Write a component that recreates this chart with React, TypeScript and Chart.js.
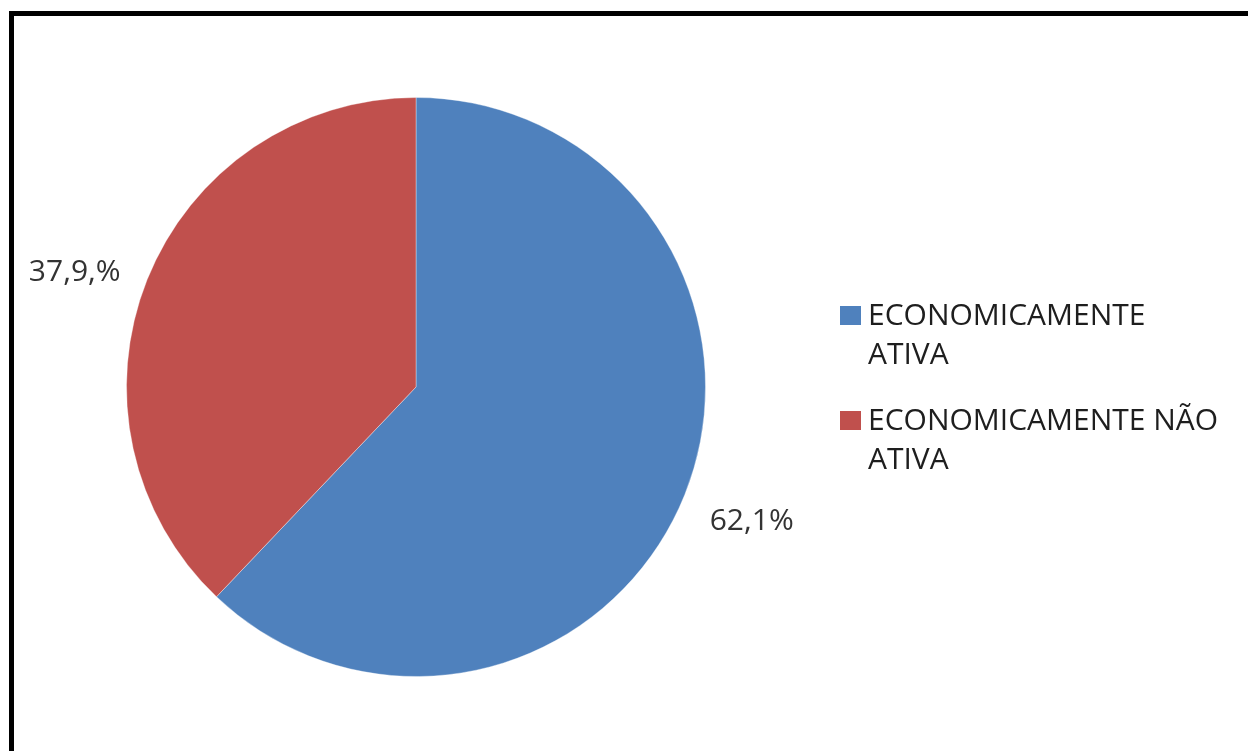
import React, { useEffect, useRef } from "react";
import { Chart, registerables } from "chart.js";

Chart.register(...registerables);

const categories: string[][] = [
  ["ECONOMICAMENTE", "ATIVA"],
  ["ECONOMICAMENTE NÃO", "ATIVA"],
];
const values: number[] = [62.1, 37.9];
const valueLabels: string[] = ["62,1%", "37,9,%"];
const colors: string[] = ["#4F81BD", "#C0504D"];

const FONT = '"Open Sans", "DejaVu Sans", sans-serif';

const frameAndLabels = {
  id: "frameAndLabels",
  afterDraw(chart: any) {
    const ctx = chart.ctx as CanvasRenderingContext2D;
    ctx.save();
    // frame (left + top)
    ctx.fillStyle = "#000000";
    ctx.fillRect(9, 11, 5, 740);
    ctx.fillRect(9, 11, 1239, 5);

    // value labels
    const meta = chart.getDatasetMeta(0);
    ctx.font = `30px ${FONT}`;
    ctx.fillStyle = "#333333";
    ctx.textAlign = "center";
    ctx.textBaseline = "middle";
    meta.data.forEach((arc: any, i: number) => {
      const mid = (arc.startAngle + arc.endAngle) / 2;
      const left = Math.cos(mid) < 0;
      const d = arc.outerRadius + (left ? 78 : 72);
      const x = arc.x + Math.cos(mid) * d;
      const y = arc.y + Math.sin(mid) * d + (left ? 22 : 0);
      ctx.fillText(valueLabels[i], x, y);
    });

    // legend
    ctx.textAlign = "left";
    ctx.textBaseline = "alphabetic";
    ctx.font = `30px ${FONT}`;
    const lx = 840;
    const tops = [325, 430];
    categories.forEach((lines, i) => {
      const base = tops[i];
      ctx.fillStyle = colors[i];
      ctx.fillRect(lx, base - 19, 21, 19);
      ctx.fillStyle = "#1e1e1e";
      lines.forEach((ln, j) => {
        ctx.fillText(ln, lx + 28, base + j * 39);
      });
    });
    ctx.restore();
  },
};

export default function App() {
  const ref = useRef<HTMLCanvasElement | null>(null);
  useEffect(() => {
    document.body.style.margin = "0";
    document.body.style.background = "#ffffff";
    if (!ref.current) return;
    const chart = new Chart(ref.current, {
      type: "pie",
      data: {
        labels: categories as any,
        datasets: [
          {
            data: values,
            backgroundColor: colors,
            borderColor: "rgba(255,255,255,0.35)",
            borderWidth: 1,
          },
        ],
      },
      options: {
        responsive: false,
        animation: false,
        rotation: 0,
        layout: { padding: { left: 126, right: 542, top: 97, bottom: 74 } },
        plugins: {
          legend: { display: false },
          tooltip: { enabled: false },
          title: { display: false },
        },
      },
      plugins: [frameAndLabels],
    });
    return () => chart.destroy();
  }, []);
  return (
    <div style={{ position: "fixed", left: 0, top: 0, width: 1248, height: 751, background: "#fff" }}>
      <canvas ref={ref} width={1248} height={751} style={{ width: 1248, height: 751, display: "block" }} />
    </div>
  );
}
